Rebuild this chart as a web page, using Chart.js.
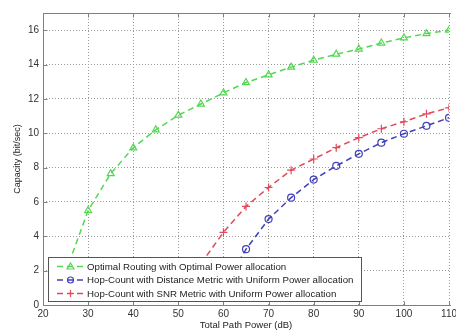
<!DOCTYPE html>
<html>
<head>
<meta charset="utf-8">
<script src="https://cdn.jsdelivr.net/npm/chart.js@4.4.0/dist/chart.umd.min.js"></script>
<style>
  html, body { margin: 0; padding: 0; background: #fff; overflow: hidden; }
  #wrap { width: 460px; height: 331px; }
</style>
</head>
<body>
<div id="wrap"><canvas id="capChart"></canvas></div>
<script>
// x positions (Total Path Power, dB)
const powerOptimal = [25, 30, 35, 40, 45, 50, 55, 60, 65, 70, 75, 80, 85, 90, 95, 100, 105, 110];
const capOptimal   = [1.9, 5.5, 7.65, 9.15, 10.2, 11.05, 11.7, 12.35, 12.95, 13.4, 13.85, 14.25, 14.6, 14.9, 15.25, 15.55, 15.8, 16.0];

const powerHop = [60, 65, 70, 75, 80, 85, 90, 95, 100, 105, 110];
const capDistance = [1.0, 3.25, 5.0, 6.25, 7.3, 8.1, 8.8, 9.45, 9.97, 10.43, 10.9];

const powerSnr = [55, 60, 65, 70, 75, 80, 85, 90, 95, 100, 105, 110];
const capSnr   = [2.4, 4.23, 5.74, 6.84, 7.85, 8.5, 9.16, 9.74, 10.26, 10.67, 11.13, 11.48];

const xTicks = [20, 30, 40, 50, 60, 70, 80, 90, 100, 110];
const yTicks = [0, 2, 4, 6, 8, 10, 12, 14, 16];

const seriesNames = [
    'Optimal Routing with Optimal Power allocation',
    'Hop-Count with Distance Metric with Uniform Power allocation',
    'Hop-Count with SNR Metric with Uniform Power allocation'
];
const green = '#52d852';
const blue = '#4040b8';
const red = '#e04a5a';
const dash = [6, 4];

function toPoints(xs, ys) {
    return xs.map(function(x, i) { return { x: x, y: ys[i] }; });
}

// matlab style frame, inner ticks and a legend box inside the axes
const matlabBits = {
    id: 'matlabBits',
    afterDraw: function(chart) {
        const c = chart.ctx;
        const a = chart.chartArea;
        const xs = chart.scales.x, ys = chart.scales.y;
        c.save();
        c.strokeStyle = '#808080';
        c.lineWidth = 1;
        c.setLineDash([]);
        c.beginPath();
        const l = Math.round(a.left) + 0.5, t = Math.round(a.top) + 0.5, b = Math.round(a.bottom) + 0.5;
        c.moveTo(a.right + 2, t); c.lineTo(l, t); c.lineTo(l, b); c.lineTo(a.right + 2, b);
        xTicks.forEach(function(v) {
            const p = Math.round(xs.getPixelForValue(v)) + 0.5;
            c.moveTo(p, t); c.lineTo(p, t + 4);
            c.moveTo(p, b); c.lineTo(p, b - 4);
        });
        yTicks.forEach(function(v) {
            const p = Math.round(ys.getPixelForValue(v)) + 0.5;
            c.moveTo(l, p); c.lineTo(l + 4, p);
        });
        c.stroke();

        // legend
        const bx = 48.5, by = 257.5, bw = 313, bh = 44;
        c.fillStyle = '#fff';
        c.fillRect(bx, by, bw, bh);
        c.strokeStyle = '#555';
        c.strokeRect(bx, by, bw, bh);
        c.font = '9.7px "Liberation Sans", Arial, sans-serif';
        c.textBaseline = 'middle';
        const cols = [green, blue, red];
        const marks = ['triangle', 'circle', 'cross'];
        seriesNames.forEach(function(name, i) {
            const y = by + 9 + i * 13.5;
            c.strokeStyle = cols[i];
            c.lineWidth = 1.5;
            c.setLineDash(dash);
            c.beginPath();
            c.moveTo(57, y); c.lineTo(85, y);
            c.stroke();
            c.setLineDash([]);
            c.lineWidth = 1.2;
            c.beginPath();
            if (marks[i] === 'triangle') {
                c.moveTo(70.5, y - 3.5); c.lineTo(74, y + 2.5); c.lineTo(67, y + 2.5); c.closePath();
            } else if (marks[i] === 'circle') {
                c.arc(70.5, y, 3, 0, Math.PI * 2);
            } else {
                c.moveTo(67, y); c.lineTo(74, y);
                c.moveTo(70.5, y - 3.5); c.lineTo(70.5, y + 3.5);
            }
            c.stroke();
            c.fillStyle = '#222';
            c.fillText(name, 87, y + 0.5);
        });
        c.restore();
    }
};

document.addEventListener('DOMContentLoaded', function() {
    const ctx = document.getElementById('capChart').getContext('2d');
    const lineBase = {
        borderWidth: 1.5,
        borderDash: dash,
        backgroundColor: 'rgba(0,0,0,0)',
        pointBorderWidth: 1.2,
        pointRadius: 3.5,
        tension: 0,
        fill: false
    };
    const tickFont = { family: '"Liberation Sans", Arial, sans-serif', size: 10 };
    new Chart(ctx, {
        type: 'line',
        data: {
            datasets: [
                Object.assign({}, lineBase, {
                    label: seriesNames[0],
                    data: toPoints(powerOptimal, capOptimal),
                    borderColor: green,
                    pointStyle: 'triangle',
                    pointRadius: 4
                }),
                Object.assign({}, lineBase, {
                    label: seriesNames[1],
                    data: toPoints(powerHop, capDistance),
                    borderColor: blue,
                    pointStyle: 'circle'
                }),
                Object.assign({}, lineBase, {
                    label: seriesNames[2],
                    data: toPoints(powerSnr, capSnr),
                    borderColor: red,
                    pointStyle: 'cross',
                    pointRadius: 4
                })
            ]
        },
        options: {
            responsive: true,
            maintainAspectRatio: false,
            animation: false,
            layout: { padding: { top: 13, right: 0, left: 0, bottom: 0 } },
            plugins: {
                legend: { display: false },
                tooltip: { enabled: false }
            },
            scales: {
                x: {
                    type: 'linear',
                    min: 20,
                    max: 110,
                    afterBuildTicks: function(scale) {
                        scale.ticks = xTicks.map(function(v) { return { value: v }; });
                    },
                    afterFit: function(scale) { scale.height = 26; },
                    grid: { color: '#9a9a9a', drawTicks: false, tickLength: 0 },
                    border: { display: false, dash: [1, 2] },
                    ticks: { padding: 3, color: '#333', font: tickFont, maxRotation: 0 },
                    title: {
                        display: true,
                        text: 'Total Path Power (dB)',
                        color: '#222',
                        padding: { top: 0, bottom: 0 },
                        font: { family: '"Liberation Sans", Arial, sans-serif', size: 9.5 }
                    }
                },
                y: {
                    min: 0,
                    max: 17,
                    afterBuildTicks: function(scale) {
                        scale.ticks = yTicks.map(function(v) { return { value: v }; });
                    },
                    afterFit: function(scale) { scale.width = 43; },
                    grid: { color: '#9a9a9a', drawTicks: false, tickLength: 0 },
                    border: { display: false, dash: [1, 2] },
                    ticks: { padding: 4, color: '#333', font: tickFont },
                    title: {
                        display: true,
                        text: 'Capacity (bit/sec)',
                        color: '#222',
                        padding: { top: 12, bottom: 0 },
                        font: { family: '"Liberation Sans", Arial, sans-serif', size: 9 }
                    }
                }
            }
        },
        plugins: [matlabBits]
    });
});
</script>
</body>
</html>
